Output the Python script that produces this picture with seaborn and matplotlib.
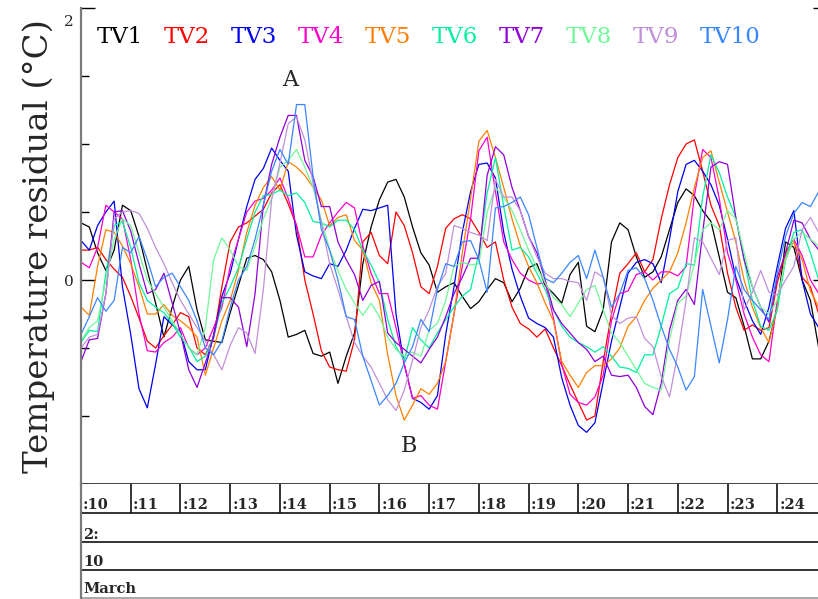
import numpy as np
import pandas as pd
import matplotlib
matplotlib.use("Agg")
import matplotlib.pyplot as plt
import seaborn as sns

# ---------------------------------------------------------------
# Temperature residuals of ten sensors, sampled every 4 hours
# starting 10 March 00:00 (x = day of month, fractional)
# ---------------------------------------------------------------
day = 10 + np.arange(90) / 6.0

tv1 = [0.42, 0.39, 0.20, 0.07, 0.22, 0.55, 0.51, 0.32, 0.07, -0.17,
       -0.42, -0.20, 0.00, 0.10, -0.22, -0.44, -0.45, -0.46, -0.24, -0.04,
       0.16, 0.18, 0.15, 0.06, -0.15, -0.42, -0.40, -0.37, -0.54, -0.56,
       -0.53, -0.76, -0.56, -0.39, 0.12, 0.39, 0.59, 0.72, 0.74, 0.61,
       0.39, 0.20, 0.11, -0.09, -0.05, -0.02, -0.12, -0.21, -0.16, -0.07,
       0.01, -0.02, -0.16, -0.06, 0.09, 0.12, -0.04, -0.10, -0.17, 0.04,
       0.13, -0.34, -0.38, -0.22, 0.28, 0.42, 0.37, 0.17, 0.02, 0.06,
       0.17, 0.37, 0.57, 0.67, 0.62, 0.51, 0.43, 0.17, -0.09, -0.13,
       -0.34, -0.58, -0.58, -0.45, -0.20, 0.28, 0.24, 0.00, -0.15, -0.50]

tv2 = [0.22, 0.22, 0.24, 0.15, 0.08, 0.02, -0.12, -0.28, -0.45, -0.50,
       -0.41, -0.33, -0.24, -0.27, -0.50, -0.55, -0.42, -0.05, 0.28, 0.39,
       0.42, 0.47, 0.52, 0.64, 0.70, 0.56, 0.40, 0.00, -0.25, -0.52,
       -0.64, -0.66, -0.67, -0.44, 0.28, 0.35, 0.18, 0.12, 0.50, 0.40,
       0.20, -0.05, -0.10, 0.10, 0.38, 0.45, 0.48, 0.45, 0.35, 0.24,
       0.28, 0.00, -0.20, -0.32, -0.36, -0.42, -0.36, -0.50, -0.63, -0.77,
       -0.90, -1.03, -1.00, -0.60, -0.25, 0.05, 0.12, 0.20, 0.06, 0.15,
       0.45, 0.70, 0.90, 1.00, 1.03, 0.80, 0.55, 0.40, 0.05, -0.20,
       -0.37, -0.33, -0.37, -0.35, -0.02, 0.20, 0.30, 0.02, -0.05, -0.25]

tv3 = [0.29, 0.22, 0.40, 0.50, 0.58, -0.05, -0.40, -0.80, -0.94, -0.62,
       -0.27, -0.33, -0.38, -0.60, -0.66, -0.66, -0.40, -0.12, 0.05, 0.30,
       0.54, 0.74, 0.82, 0.97, 0.88, 0.80, 0.33, 0.06, 0.03, 0.01,
       0.12, 0.10, 0.22, 0.38, 0.52, 0.51, 0.53, 0.55, -0.25, -0.62,
       -0.87, -0.90, -0.95, -0.85, -0.40, -0.05, 0.35, 0.65, 0.85, 0.86,
       0.75, 0.35, 0.08, -0.12, -0.28, -0.32, -0.35, -0.42, -0.72, -0.92,
       -1.07, -1.12, -1.05, -0.75, -0.45, -0.20, 0.05, 0.13, 0.15, 0.12,
       -0.02, 0.30, 0.65, 0.85, 0.88, 0.80, 0.70, 0.55, 0.30, 0.02,
       -0.15, -0.30, -0.40, -0.20, 0.10, 0.38, 0.51, 0.00, -0.25, -0.35]

tv4 = [0.13, 0.09, 0.24, 0.55, 0.50, 0.45, 0.15, -0.25, -0.52, -0.53,
       -0.46, -0.42, -0.35, -0.50, -0.55, -0.50, -0.35, -0.20, 0.10, 0.30,
       0.50, 0.58, 0.60, 0.66, 0.75, 0.60, 0.40, 0.17, 0.17, 0.33,
       0.42, 0.50, 0.57, 0.53, 0.25, 0.05, -0.10, -0.10, -0.35, -0.62,
       -0.87, -0.85, -0.92, -0.95, -0.60, -0.25, 0.10, 0.45, 0.95, 1.05,
       0.65, 0.28, 0.15, 0.05, 0.00, -0.03, -0.02, -0.28, -0.62, -0.84,
       -0.90, -0.92, -0.86, -0.70, -0.30, -0.10, -0.08, 0.04, 0.06, 0.00,
       0.06, 0.06, 0.03, 0.10, 0.62, 0.96, 0.90, 0.60, 0.20, 0.00,
       -0.25, -0.42, -0.55, -0.60, -0.15, 0.15, 0.30, 0.18, 0.00, -0.10]

tv5 = [-0.20, -0.26, 0.10, 0.37, 0.35, 0.25, 0.12, -0.05, -0.25, -0.25,
       -0.18, -0.26, -0.30, -0.35, -0.42, -0.70, -0.50, -0.30, -0.15, 0.07,
       0.35, 0.55, 0.68, 0.76, 0.66, 0.87, 0.83, 0.77, 0.68, 0.59,
       0.40, 0.46, 0.48, 0.29, 0.22, -0.02, -0.15, -0.55, -0.85, -1.03,
       -0.92, -0.80, -0.84, -0.76, -0.60, -0.25, 0.20, 0.60, 1.02, 1.10,
       0.90, 0.68, 0.45, 0.25, 0.10, -0.02, -0.17, -0.30, -0.60, -0.70,
       -0.79, -0.68, -0.63, -0.63, -0.58, -0.50, -0.34, -0.27, -0.15, -0.06,
       0.00, 0.06, 0.20, 0.42, 0.68, 0.90, 0.95, 0.72, 0.50, 0.28,
       0.00, -0.20, -0.35, -0.46, -0.20, 0.18, 0.28, 0.15, -0.08, -0.20]

tv6 = [-0.46, -0.37, -0.38, 0.05, 0.40, 0.43, 0.24, -0.02, -0.15, -0.20,
       -0.24, -0.32, -0.42, -0.49, -0.60, -0.56, -0.42, -0.17, -0.05, 0.09,
       0.30, 0.50, 0.62, 0.63, 0.66, 0.62, 0.64, 0.57, 0.43, 0.42,
       0.39, 0.44, 0.44, 0.37, 0.22, 0.11, -0.02, -0.29, -0.49, -0.59,
       -0.35, -0.44, -0.50, -0.39, -0.29, -0.20, -0.12, -0.07, 0.20, 0.64,
       0.90, 0.54, 0.22, 0.24, 0.17, 0.05, -0.07, -0.22, -0.34, -0.42,
       -0.46, -0.49, -0.53, -0.49, -0.56, -0.64, -0.65, -0.68, -0.55, -0.55,
       -0.34, -0.10, -0.06, 0.12, 0.11, 0.61, 0.92, 0.79, 0.61, 0.46,
       0.15, -0.15, -0.34, -0.37, -0.22, 0.15, 0.35, 0.37, 0.20, 0.00]

tv7 = [-0.60, -0.44, -0.43, -0.10, 0.50, 0.51, 0.36, 0.12, -0.10, -0.07,
       0.05, -0.17, -0.39, -0.66, -0.79, -0.61, -0.42, -0.13, -0.13, -0.20,
       -0.49, -0.10, 0.55, 0.85, 1.05, 1.21, 1.21, 0.88, 0.76, 0.54,
       0.54, 0.28, 0.15, 0.04, -0.15, -0.04, -0.01, -0.39, -0.46, -0.51,
       -0.56, -0.61, -0.51, -0.42, -0.27, -0.10, 0.02, 0.16, 0.16, 0.77,
       0.98, 0.92, 0.68, 0.51, 0.32, 0.20, 0.00, -0.22, -0.32, -0.39,
       -0.46, -0.51, -0.60, -0.56, -0.70, -0.71, -0.70, -0.79, -0.93, -0.99,
       -0.76, -0.37, -0.15, -0.07, -0.18, 0.35, 0.83, 0.87, 0.85, 0.46,
       0.15, -0.05, -0.20, -0.31, 0.02, 0.20, 0.44, 0.42, 0.30, 0.22]

tv8 = [-0.45, -0.35, -0.30, 0.00, 0.30, 0.45, 0.40, 0.20, 0.00, -0.10,
       -0.20, -0.30, -0.40, -0.50, -0.55, -0.35, 0.15, 0.31, 0.22, 0.10,
       0.07, 0.25, 0.45, 0.60, 0.83, 0.88, 0.96, 0.83, 0.68, 0.44,
       0.22, 0.07, -0.07, -0.17, -0.26, -0.17, -0.27, -0.42, -0.51, -0.56,
       -0.53, -0.56, -0.37, -0.32, -0.15, 0.10, 0.13, 0.11, 0.12, 0.50,
       0.68, 0.61, 0.51, 0.37, 0.22, 0.09, -0.02, -0.13, -0.18, -0.27,
       -0.17, -0.07, -0.04, -0.22, -0.39, -0.46, -0.56, -0.66, -0.76, -0.79,
       -0.81, -0.44, -0.17, -0.12, 0.12, 0.37, 0.42, 0.37, 0.51, 0.45,
       0.20, -0.05, -0.20, -0.25, -0.15, 0.15, 0.30, 0.35, 0.30, 0.25]

tv9 = [-0.50, -0.42, -0.40, -0.10, 0.45, 0.50, 0.51, 0.49, 0.38, 0.24,
       0.12, -0.02, -0.15, -0.25, -0.35, -0.45, -0.55, -0.66, -0.48, -0.35,
       -0.39, -0.54, -0.07, 0.59, 0.86, 1.15, 1.20, 1.03, 0.71, 0.42,
       0.12, -0.07, -0.27, -0.46, -0.56, -0.64, -0.76, -0.88, -0.96, -0.81,
       -0.59, -0.35, -0.22, -0.05, 0.05, 0.40, 0.38, 0.35, 0.33, 0.29,
       0.74, 0.61, 0.61, 0.51, 0.32, 0.17, 0.05, 0.01, 0.01, -0.01,
       -0.02, -0.15, 0.06, 0.02, -0.26, -0.32, -0.28, -0.27, -0.43, -0.49,
       -0.71, -0.86, -0.54, -0.15, 0.31, 0.28, 0.16, 0.04, 0.29, 0.31,
       -0.22, -0.09, 0.07, -0.09, -0.11, 0.00, 0.10, 0.37, 0.46, 0.35]

tv10 = [-0.40, -0.27, -0.13, -0.23, -0.15, 0.24, 0.20, 0.32, 0.15, -0.05,
        0.02, 0.05, -0.05, -0.15, -0.30, -0.50, -0.55, -0.45, -0.20, 0.00,
        0.10, 0.30, 0.55, 0.80, 0.96, 0.85, 1.29, 1.29, 0.76, 0.37,
        0.22, 0.00, -0.27, -0.29, -0.56, -0.74, -0.92, -0.85, -0.76, -0.61,
        -0.49, -0.29, -0.38, -0.07, 0.12, 0.10, 0.28, 0.29, 0.15, -0.09,
        0.53, 0.54, 0.57, 0.61, 0.48, 0.24, 0.01, -0.02, 0.05, 0.13,
        0.18, 0.01, 0.22, 0.02, -0.20, -0.10, 0.07, 0.09, 0.01, -0.15,
        -0.34, -0.51, -0.64, -0.81, -0.71, -0.07, -0.34, -0.61, -0.29, 0.10,
        -0.07, -0.15, -0.22, -0.29, 0.05, 0.32, 0.49, 0.57, 0.54, 0.65]

sensor_names = ["TV1", "TV2", "TV3", "TV4", "TV5",
                "TV6", "TV7", "TV8", "TV9", "TV10"]
sensor_values = [tv1, tv2, tv3, tv4, tv5, tv6, tv7, tv8, tv9, tv10]
sensor_colors = ["#000000", "#ff0000", "#0000f0", "#ff00cc", "#ff8000",
                 "#00f0a0", "#9000d8", "#70f898", "#c090d8", "#3a86ff"]

day_ticks = list(range(10, 25))
day_labels = [":%d" % d for d in day_ticks]
row_labels = ["2:", "10", "March"]

# long-form table for seaborn
frames = [pd.DataFrame({"day": day, "residual": vals, "sensor": name})
          for name, vals in zip(sensor_names, sensor_values)]
df = pd.concat(frames, ignore_index=True)

sns.set_style("white")
plt.rcParams["font.family"] = ["DejaVu Serif"]

W, H = 818, 599
fig = plt.figure(figsize=(W / 100, H / 100), dpi=100)
fig.patch.set_facecolor("white")

# main panel (its right edge runs past the figure edge)
left, right = 81, 827
top, bottom = 8, 484
ax = fig.add_axes([left / W, (H - bottom) / H, (right - left) / W, (bottom - top) / H])

sns.lineplot(data=df, x="day", y="residual", hue="sensor",
             hue_order=sensor_names, palette=sensor_colors,
             estimator=None, sort=False, linewidth=0.9, legend=False, ax=ax)

ax.set_xlim(10, 25)
ax.set_ylim(-1.5, 2)
ax.set_xlabel("")
ax.set_ylabel("Temperature residual (°C)", fontsize=24.5, labelpad=7)

ax.set_xticks(range(10, 26))
ax.tick_params(axis="x", direction="in", length=4, width=1.0,
               labelbottom=False, color="black")
ax.set_yticks([0, 2])
ax.set_yticklabels(["0", ""])
ax.set_yticks(np.arange(-1.5, 2.01, 0.5), minor=True)
ax.tick_params(axis="y", which="major", direction="in", length=10, width=1.0,
               left=True, right=True, labelsize=11, pad=5, color="black")
ax.tick_params(axis="y", which="minor", direction="in", length=6, width=1.0,
               left=True, right=False, color="black")
ax.text(-0.010, 1.0 - 14 / (bottom - top), "2", transform=ax.transAxes,
        ha="right", va="center", fontsize=11)

for side in ("top", "right"):
    ax.spines[side].set_visible(False)
ax.spines["left"].set_color("#7a7a7a")
ax.spines["left"].set_linewidth(1.6)
ax.spines["bottom"].set_color("#222222")
ax.spines["bottom"].set_linewidth(1.2)
ax.grid(False)

# sensor names across the top
for i, (name, col) in enumerate(zip(sensor_names, sensor_colors)):
    fig.text((97 + 67 * i) / W, 1 - 43 / H, name, color=col,
             fontsize=16.5, va="baseline", ha="left")

ax.text(14.2, 1.47, "A", fontsize=16, ha="center", va="center")
ax.text(16.59, -1.22, "B", fontsize=16, ha="center", va="center")

# date table beneath the time axis
tab = fig.add_axes([left / W, 0, (right - left) / W, (H - bottom) / H])
tab.set_xlim(10, 25)
tab.set_ylim(H - bottom, 0)
tab.set_xticks([])
tab.set_yticks([])
for side in ("top", "right", "bottom"):
    tab.spines[side].set_visible(False)
tab.spines["left"].set_color("#7a7a7a")
tab.spines["left"].set_linewidth(1.6)
tab.set_facecolor("white")

row_lines = [29, 58, 86]
tab.hlines(row_lines, 10, 25, colors="#111111", linewidth=1.2)
tab.hlines([114], 10, 25, colors="#999999", linewidth=1.2)
tab.vlines(day_ticks, 0, 29, colors="#111111", linewidth=1.2)
for d, lab in zip(day_ticks, day_labels):
    tab.text(d + 0.04, 21, lab, fontsize=10.5, fontweight="bold",
             ha="left", va="center")
for y, lab in zip([51, 78, 105], row_labels):
    tab.text(10.04, y, lab, fontsize=10.5, fontweight="bold",
             ha="left", va="center")

fig.savefig("out.png", dpi=100)
